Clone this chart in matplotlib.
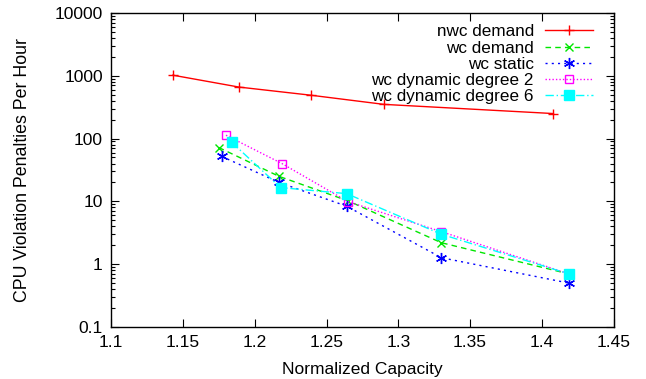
import numpy as np
import matplotlib
matplotlib.use("Agg")
import matplotlib.pyplot as plt
from matplotlib.ticker import LogLocator, FixedLocator, NullFormatter

plt.rcParams['font.family'] = ['Liberation Sans', 'DejaVu Sans']

# -----------------------
# Data
# -----------------------
nwc_x = [1.143, 1.189, 1.239, 1.290, 1.408]
nwc_y = [1020, 660, 490, 350, 250]

wcd_x = [1.175, 1.217, 1.265, 1.330, 1.419]
wcd_y = [72, 25, 10.2, 2.2, 0.70]

wcs_x = [1.177, 1.217, 1.264, 1.330, 1.419]
wcs_y = [52, 20, 8.4, 1.27, 0.50]

dyn2_x = [1.180, 1.219, 1.265, 1.330, 1.419]
dyn2_y = [113, 40, 9.9, 3.3, 0.70]

dyn6_x = [1.184, 1.218, 1.264, 1.330, 1.419]
dyn6_y = [87, 16.6, 13.3, 3.0, 0.70]

x_ticks = [1.1, 1.15, 1.2, 1.25, 1.3, 1.35, 1.4, 1.45]
y_ticks = [0.1, 1, 10, 100, 1000, 10000]
y_labels = ["0.1", "1", "10", "100", "1000", "10000"]

# -----------------------
# Plot
# -----------------------
fig = plt.figure(figsize=(6.46, 3.79), dpi=100)
ax = fig.add_axes([0.172, 0.137, 0.778, 0.829])

ax.plot(nwc_x, nwc_y, color='#ff0000', lw=1, ls='-', marker='+', ms=7, mew=1,
        label='nwc demand')
ax.plot(wcd_x, wcd_y, color='#00e600', lw=1, ls=(0, (4, 3)), marker='x', ms=6, mew=1,
        label='wc demand')
ax.plot(wcs_x, wcs_y, color='#0000ff', lw=1, ls=(0, (1.5, 3)), marker=(6, 2, 0), ms=8, mew=1,
        label='wc static')
ax.plot(dyn2_x, dyn2_y, color='#ff00ff', lw=1, ls=(0, (1, 1.5)), marker='s', ms=6, mew=1,
        mfc='none', label='wc dynamic degree 2')
ax.plot(dyn6_x, dyn6_y, color='#00ffff', lw=1, ls=(0, (6, 2, 1, 2)), marker='s', ms=7,
        label='wc dynamic degree 6')

ax.set_yscale('log')
ax.set_xlim(1.1, 1.45)
ax.set_ylim(0.1, 10000)
ax.xaxis.set_major_locator(FixedLocator(x_ticks))
ax.set_xticklabels([f"{t:g}" for t in x_ticks])
ax.yaxis.set_major_locator(FixedLocator(y_ticks))
ax.set_yticklabels(y_labels)
ax.yaxis.set_minor_locator(LogLocator(base=10, subs=np.arange(2, 10)))
ax.yaxis.set_minor_formatter(NullFormatter())

ax.tick_params(which='both', direction='in', top=True, right=True, labelsize=12.5,
               width=0.8, colors='black')
ax.tick_params(which='major', length=6, pad=6)
ax.tick_params(which='minor', length=3)
for sp in ax.spines.values():
    sp.set_linewidth(1)

ax.set_xlabel("Normalized Capacity", fontsize=12.5, labelpad=8)
ax.set_ylabel("CPU Violation Penalties Per Hour", fontsize=12.8, labelpad=17)

ax.legend(loc='upper right', bbox_to_anchor=(0.965, 0.974), frameon=False,
          markerfirst=False, fontsize=12.3, handlelength=2.8, labelspacing=0.07,
          borderaxespad=0, handletextpad=0.65, borderpad=0.2)

fig.savefig("out.png", dpi=100)
